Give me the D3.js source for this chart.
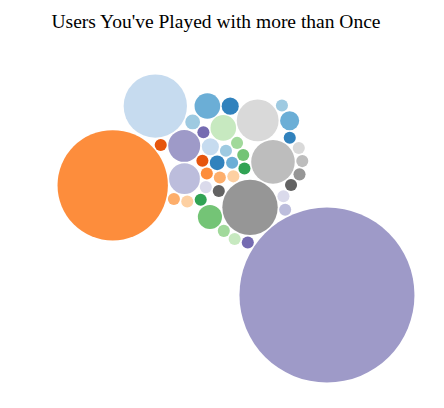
<!DOCTYPE html>
<html>
<head>
<meta charset="utf-8">
<script src="https://d3js.org/d3.v7.min.js"></script>
<style>
body { margin: 8px; background: #fff; }
.title { font-family: "Liberation Serif", "Times New Roman", serif; font-size: 19.5px; }
</style>
</head>
<body>
<svg id="chart" width="436" height="392"></svg>
<script>
// users in the order the service returned them
const users = d3.range(43).map(i => "user" + (i + 1));
// number of games played together with each user
const games = [3, 2, 2, 4, 2, 2, 2, 2, 2, 2, 2, 9, 2, 14, 13, 2, 2, 42, 26, 24,
               4, 9, 3, 55, 2, 167, 2, 2, 2, 8, 2, 2, 2, 420, 2, 2, 2, 2, 2, 2,
               2, 5, 2];
const palette = [
    "#3182bd", "#6baed6", "#9ecae1", "#c6dbef", "#e6550d", "#fd8d3c", "#fdae6b", "#fdd0a2",
    "#31a354", "#74c476", "#a1d99b", "#c7e9c0", "#756bb1", "#9e9ac8", "#bcbddc", "#dadaeb",
    "#636363", "#969696", "#bdbdbd", "#d9d9d9"];

const padding = 1.5;

// front-chain circle packing, same as the old d3.layout.pack with sort(null)
function packSiblings(nodes) {
    let xMin = Infinity, xMax = -Infinity, yMin = Infinity, yMax = -Infinity;
    let a, b, c, i, j, k;
    const n = nodes.length;
    function bound(node) {
        xMin = Math.min(node.x - node.r, xMin);
        xMax = Math.max(node.x + node.r, xMax);
        yMin = Math.min(node.y - node.r, yMin);
        yMax = Math.max(node.y + node.r, yMax);
    }
    function insert(a, b) {
        const c = a.next;
        a.next = b; b.prev = a; b.next = c; c.prev = b;
    }
    function splice(a, b) { a.next = b; b.prev = a; }
    function intersects(a, b) {
        const dx = b.x - a.x, dy = b.y - a.y, dr = a.r + b.r;
        return 0.999 * dr * dr > dx * dx + dy * dy;
    }
    function place(a, b, c) {
        let db = a.r + c.r;
        const dx = b.x - a.x, dy = b.y - a.y;
        if (db && (dx || dy)) {
            let da = b.r + c.r;
            const dc = dx * dx + dy * dy;
            da *= da;
            db *= db;
            const x = 0.5 + (db - da) / (2 * dc),
                  y = Math.sqrt(Math.max(0, 2 * da * (db + dc) - (db -= dc) * db - da * da)) / (2 * dc);
            c.x = a.x + x * dx + y * dy;
            c.y = a.y + x * dy - y * dx;
        } else {
            c.x = a.x + db;
            c.y = a.y;
        }
    }
    nodes.forEach(d => { d.next = d.prev = d; });
    a = nodes[0]; a.x = -a.r; a.y = 0; bound(a);
    b = nodes[1]; b.x = b.r; b.y = 0; bound(b);
    c = nodes[2]; place(a, b, c); bound(c);
    insert(a, c); a.prev = c; insert(c, b);
    b = a.next;
    for (i = 3; i < n; i++) {
        place(a, b, c = nodes[i]);
        let isect = 0, s1 = 1, s2 = 1;
        for (j = b.next; j !== b; j = j.next, s1++) {
            if (intersects(j, c)) { isect = 1; break; }
        }
        if (isect) {
            for (k = a.prev; k !== j.prev; k = k.prev, s2++) {
                if (intersects(k, c)) break;
            }
            if (s1 < s2 || (s1 === s2 && b.r < a.r)) splice(a, b = j);
            else splice(a = k, b);
            i--;
        } else {
            insert(a, c);
            b = c;
            bound(c);
        }
    }
    const cx = (xMin + xMax) / 2, cy = (yMin + yMax) / 2;
    nodes.forEach(d => { d.x -= cx; d.y -= cy; delete d.next; delete d.prev; });
}

const svg = d3.select("#chart");
svg.append("text")
    .attr("class", "title")
    .attr("x", 208)
    .attr("y", 20)
    .attr("text-anchor", "middle")
    .text("Users You've Played with more than Once");

const color = d3.scaleOrdinal().domain(d3.range(20)).range(palette);
const rScale = d3.scaleSqrt().domain([0, 420]).range([0, 87.5]);

const root = d3.hierarchy({ children: users.map((u, i) => ({ name: u, idx: i, value: games[i] })) })
    .sum(d => d.value || 0);
const bubbles = root.leaves();
bubbles.forEach(d => { d.r = rScale(d.value) + padding / 2; });
packSiblings(bubbles);
bubbles.forEach(d => { d.r -= padding / 2; });

const g = svg.append("g")
    .attr("transform", "translate(228,220.5)");

g.selectAll("circle")
    .data(bubbles)
    .enter()
    .append("circle")
    .attr("cx", d => d.x)
    .attr("cy", d => d.y)
    .attr("r", d => d.r)
    .attr("fill", d => color(d.data.idx % 20));
</script>
</body>
</html>
